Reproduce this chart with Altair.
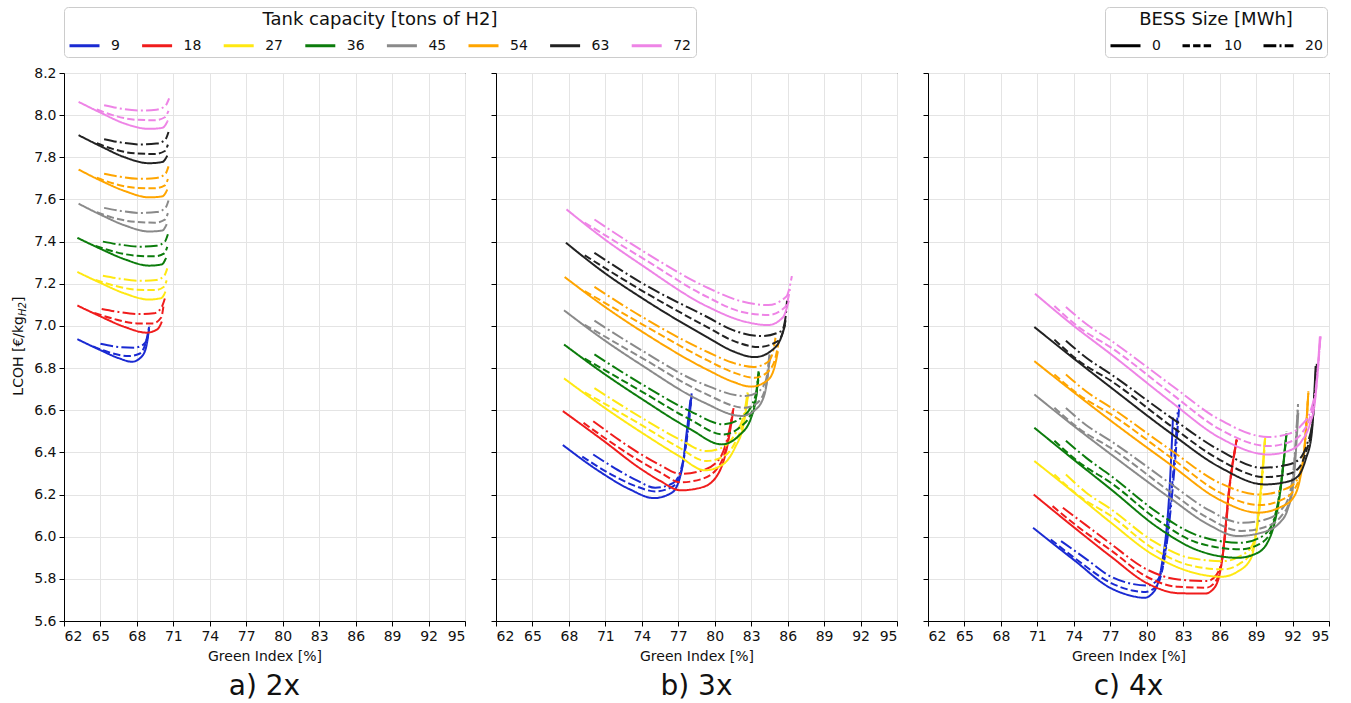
import altair as alt
import pandas as pd

FONT = "DejaVu Sans"
TANKS = ["9", "18", "27", "36", "45", "54", "63", "72"]
COLORS = ["#1a2ad2", "#f01c1c", "#ffe812", "#0c7c0c", "#8a8a8a", "#ffa500", "#222222", "#ee84e6"]
BESS = ["0", "10", "20"]
DASHES = [[1, 0], [7.4, 3.2], [12.8, 3.2, 2, 3.2]]
XTICKS = [62, 65, 68, 71, 74, 77, 80, 83, 86, 89, 92, 95]
YTICKS = [5.6, 5.8, 6.0, 6.2, 6.4, 6.6, 6.8, 7.0, 7.2, 7.4, 7.6, 7.8, 8.0, 8.2]

# ---------------- panel a) 2x ----------------
A9 = [("0", [63.1, 65.0, 66.5, 67.6, 68.4, 68.8, 69.0], [6.937, 6.885, 6.847, 6.83, 6.855, 6.91, 6.99]),
      ("10", [64.4, 66.0, 67.3, 68.2, 68.7, 69.0], [6.903, 6.87, 6.857, 6.868, 6.915, 6.995]),
      ("20", [65.0, 66.5, 67.8, 68.5, 68.85, 69.05], [6.915, 6.9, 6.897, 6.91, 6.94, 7.0])]
A18 = [("0", [63.1, 65.0, 67.0, 68.8, 69.7, 70.05], [7.097, 7.045, 6.995, 6.968, 6.985, 7.02]),
       ("10", [64.5, 66.0, 68.0, 69.3, 70.0, 70.2], [7.062, 7.035, 7.012, 7.012, 7.04, 7.10]),
       ("20", [65.1, 66.5, 68.2, 69.4, 70.0, 70.3], [7.08, 7.066, 7.056, 7.06, 7.085, 7.13])]
A27 = [("0", [63.1, 65.0, 67.0, 69.0, 70.0, 70.35], [7.256, 7.204, 7.154, 7.125, 7.132, 7.163]),
       ("10", [64.6, 66.0, 68.0, 69.5, 70.2, 70.45], [7.218, 7.193, 7.172, 7.17, 7.185, 7.216]),
       ("20", [65.2, 66.6, 68.3, 69.6, 70.25, 70.5], [7.238, 7.224, 7.214, 7.218, 7.238, 7.273])]
A36 = [("0", [63.1, 65.0, 67.0, 69.0, 70.05, 70.4], [7.418, 7.366, 7.316, 7.286, 7.292, 7.323]),
       ("10", [64.6, 66.0, 68.0, 69.5, 70.25, 70.5], [7.38, 7.354, 7.333, 7.33, 7.344, 7.375]),
       ("20", [65.2, 66.6, 68.3, 69.6, 70.3, 70.55], [7.4, 7.386, 7.376, 7.38, 7.4, 7.435])]
A45 = [("0", [63.2, 65.0, 67.0, 69.0, 70.1, 70.45], [7.58, 7.528, 7.477, 7.448, 7.453, 7.483]),
       ("10", [64.7, 66.0, 68.0, 69.5, 70.3, 70.55], [7.54, 7.514, 7.493, 7.49, 7.504, 7.535]),
       ("20", [65.3, 66.6, 68.3, 69.6, 70.35, 70.6], [7.56, 7.546, 7.536, 7.54, 7.56, 7.595])]
A54 = [("0", [63.2, 65.0, 67.0, 69.0, 70.1, 70.5], [7.742, 7.69, 7.64, 7.61, 7.615, 7.647]),
       ("10", [64.7, 66.0, 68.0, 69.5, 70.3, 70.55], [7.703, 7.677, 7.655, 7.653, 7.667, 7.697]),
       ("20", [65.3, 66.6, 68.3, 69.6, 70.35, 70.6], [7.722, 7.708, 7.698, 7.702, 7.722, 7.757])]
A63 = [("0", [63.2, 65.0, 67.0, 69.0, 70.1, 70.5], [7.905, 7.853, 7.80, 7.772, 7.778, 7.808]),
       ("10", [64.7, 66.0, 68.0, 69.5, 70.3, 70.55], [7.867, 7.84, 7.818, 7.816, 7.83, 7.86]),
       ("20", [65.3, 66.6, 68.3, 69.6, 70.35, 70.6], [7.886, 7.871, 7.861, 7.865, 7.885, 7.92])]
A72 = [("0", [63.2, 65.0, 67.0, 69.0, 70.1, 70.55], [8.063, 8.012, 7.96, 7.935, 7.94, 7.975]),
       ("10", [64.7, 66.0, 68.0, 69.5, 70.3, 70.6], [8.027, 8.0, 7.978, 7.976, 7.99, 8.02]),
       ("20", [65.3, 66.6, 68.3, 69.6, 70.35, 70.65], [8.047, 8.032, 8.022, 8.026, 8.045, 8.08])]

# ---------------- panel b) 3x ----------------
B9 = [("0", [67.5, 70.5, 73.0, 75.0, 76.5, 77.3, 77.7, 78.0], [6.435, 6.31, 6.225, 6.183, 6.21, 6.32, 6.5, 6.65]),
      ("10", [69.1, 71.5, 73.5, 75.1, 76.6, 77.4, 77.8, 78.1], [6.38, 6.295, 6.24, 6.215, 6.24, 6.35, 6.52, 6.66]),
      ("20", [70.0, 71.5, 73.5, 75.1, 76.6, 77.4, 77.85, 78.1], [6.39, 6.335, 6.27, 6.232, 6.255, 6.36, 6.53, 6.68])]
B18 = [("0", [67.5, 70.85, 73.96, 75.5, 77.2, 79.0, 80.3, 81.0, 81.5], [6.596, 6.455, 6.32, 6.265, 6.22, 6.235, 6.3, 6.42, 6.588]),
       ("10", [69.2, 73.96, 75.5, 77.2, 79.0, 80.4, 81.1, 81.5], [6.54, 6.355, 6.305, 6.258, 6.275, 6.34, 6.46, 6.6]),
       ("20", [70.0, 73.96, 75.5, 77.2, 79.0, 80.4, 81.1, 81.55], [6.548, 6.39, 6.34, 6.298, 6.315, 6.37, 6.48, 6.61])]
B27 = [("0", [67.6, 70.85, 73.96, 77.0, 79.2, 80.6, 81.66, 82.4, 82.75], [6.751, 6.615, 6.495, 6.385, 6.315, 6.34, 6.422, 6.54, 6.675]),
       ("10", [69.3, 73.96, 77.0, 79.3, 80.7, 81.7, 82.4, 82.75], [6.685, 6.53, 6.425, 6.359, 6.38, 6.45, 6.56, 6.68]),
       ("20", [70.1, 73.96, 77.0, 79.3, 80.7, 81.7, 82.4, 82.7], [6.705, 6.565, 6.465, 6.406, 6.425, 6.49, 6.58, 6.685])]
B36 = [("0", [67.6, 70.85, 73.96, 78.0, 80.56, 82.0, 83.0, 83.4, 83.6], [6.912, 6.775, 6.655, 6.51, 6.438, 6.48, 6.565, 6.66, 6.77]),
       ("10", [69.3, 73.96, 78.0, 80.7, 82.1, 83.1, 83.45, 83.65], [6.845, 6.69, 6.555, 6.485, 6.52, 6.6, 6.68, 6.78]),
       ("20", [70.1, 73.96, 78.0, 80.7, 82.1, 83.1, 83.45, 83.6], [6.865, 6.725, 6.595, 6.533, 6.56, 6.63, 6.7, 6.785])]
B45 = [("0", [67.6, 70.85, 73.96, 79.0, 82.2, 83.3, 84.1, 84.55], [7.074, 6.935, 6.815, 6.64, 6.573, 6.6, 6.675, 6.857]),
       ("10", [69.3, 73.96, 79.0, 82.5, 83.5, 84.2, 84.55], [7.005, 6.85, 6.685, 6.612, 6.635, 6.71, 6.86]),
       ("20", [70.1, 73.96, 79.0, 82.5, 83.5, 84.2, 84.5], [7.025, 6.885, 6.725, 6.667, 6.685, 6.74, 6.865])]
B54 = [("0", [67.65, 70.85, 73.96, 79.46, 81.5, 83.0, 84.3, 84.9, 85.2], [7.232, 7.095, 6.975, 6.79, 6.735, 6.712, 6.74, 6.8, 6.88]),
       ("10", [69.3, 73.96, 79.46, 81.5, 83.3, 84.5, 85.0, 85.25], [7.165, 7.01, 6.835, 6.78, 6.754, 6.79, 6.85, 6.92]),
       ("20", [70.1, 73.96, 79.46, 81.5, 83.2, 84.4, 84.8, 85.0], [7.185, 7.045, 6.875, 6.825, 6.805, 6.83, 6.88, 6.944])]
B63 = [("0", [67.75, 70.85, 73.96, 79.46, 81.5, 83.3, 84.96, 85.5, 85.8], [7.395, 7.255, 7.134, 6.944, 6.88, 6.852, 6.897, 6.95, 7.007]),
       ("10", [69.3, 73.96, 79.46, 81.5, 83.6, 85.2, 85.6, 85.85], [7.335, 7.169, 6.992, 6.93, 6.90, 6.928, 6.97, 7.03]),
       ("20", [70.1, 73.96, 79.46, 81.5, 83.86, 85.5, 85.8, 85.95], [7.347, 7.205, 7.04, 6.98, 6.952, 6.976, 7.03, 7.12])]
B72 = [("0", [67.8, 70.85, 73.96, 79.46, 82.5, 84.4, 85.6, 86.1], [7.553, 7.415, 7.29, 7.09, 7.02, 7.004, 7.04, 7.12]),
       ("10", [69.3, 73.96, 79.46, 82.0, 84.4, 85.8, 86.2], [7.49, 7.325, 7.135, 7.07, 7.052, 7.09, 7.174]),
       ("20", [70.1, 73.96, 79.46, 82.0, 84.4, 85.9, 86.35], [7.505, 7.36, 7.18, 7.12, 7.099, 7.14, 7.237])]

# ---------------- panel c) 4x ----------------
C9 = [("0", [70.65, 74.0, 77.07, 78.7, 79.8, 80.6, 81.2, 81.9, 82.16], [6.042, 5.89, 5.755, 5.72, 5.71, 5.74, 5.853, 6.248, 6.565]),
      ("10", [72.1, 74.5, 77.07, 78.8, 79.9, 80.8, 81.4, 82.1, 82.55], [5.987, 5.88, 5.78, 5.745, 5.738, 5.765, 5.88, 6.25, 6.59]),
      ("20", [72.95, 75.0, 77.07, 78.9, 80.0, 80.9, 81.5, 82.2, 82.7], [5.979, 5.895, 5.81, 5.775, 5.768, 5.795, 5.91, 6.27, 6.64])]
C18 = [("0", [70.7, 74.0, 77.07, 80.0, 82.6, 84.8, 85.6, 86.15, 86.83, 87.4], [6.2, 6.045, 5.905, 5.78, 5.732, 5.73, 5.76, 5.868, 6.248, 6.462]),
       ("10", [72.25, 74.5, 77.07, 80.0, 82.6, 84.9, 85.7, 86.2, 86.85, 87.4], [6.145, 6.04, 5.935, 5.81, 5.762, 5.758, 5.79, 5.89, 6.26, 6.46]),
       ("20", [73.1, 75.0, 77.07, 80.0, 82.6, 85.0, 85.75, 86.25, 86.9, 87.45], [6.137, 6.055, 5.965, 5.845, 5.797, 5.79, 5.82, 5.91, 6.27, 6.47])]
C27 = [("0", [70.75, 74.0, 77.07, 80.5, 83.5, 86.15, 87.5, 88.6, 89.3, 89.72], [6.359, 6.21, 6.066, 5.915, 5.835, 5.81, 5.835, 5.90, 6.17, 6.462]),
       ("10", [72.4, 74.5, 77.07, 80.5, 83.5, 86.3, 87.6, 88.65, 89.35, 89.75], [6.295, 6.19, 6.098, 5.945, 5.865, 5.845, 5.87, 5.93, 6.19, 6.47]),
       ("20", [73.35, 75.0, 77.07, 80.5, 83.5, 86.3, 87.6, 88.7, 89.4, 89.75], [6.295, 6.21, 6.13, 5.98, 5.9, 5.884, 5.905, 5.96, 6.2, 6.47])]
C36 = [("0", [70.75, 74.0, 77.07, 81.0, 84.0, 87.5, 89.0, 90.0, 90.5, 90.96, 91.5], [6.517, 6.365, 6.224, 6.04, 5.94, 5.90, 5.92, 5.979, 6.06, 6.201, 6.486]),
       ("10", [72.4, 74.5, 77.07, 81.0, 84.0, 87.7, 89.1, 90.1, 90.55, 91.0, 91.5], [6.455, 6.35, 6.255, 6.075, 5.975, 5.94, 5.96, 6.01, 6.09, 6.23, 6.49]),
       ("20", [73.35, 75.0, 77.07, 81.0, 84.0, 87.7, 89.1, 90.15, 90.6, 91.05, 91.5], [6.455, 6.375, 6.288, 6.11, 6.01, 5.971, 5.99, 6.04, 6.11, 6.25, 6.5])]
C45 = [("0", [70.75, 74.0, 77.07, 82.0, 85.0, 87.5, 89.5, 91.0, 91.6, 92.06, 92.47], [6.675, 6.525, 6.39, 6.18, 6.06, 6.003, 6.02, 6.07, 6.13, 6.248, 6.588]),
       ("10", [72.4, 74.5, 77.07, 82.0, 85.0, 87.8, 89.7, 91.1, 91.7, 92.1, 92.45], [6.612, 6.51, 6.42, 6.21, 6.09, 6.027, 6.045, 6.1, 6.16, 6.3, 6.62]),
       ("20", [73.35, 75.0, 77.07, 82.0, 85.0, 87.8, 89.7, 91.1, 91.7, 92.1, 92.45], [6.61, 6.53, 6.453, 6.25, 6.13, 6.066, 6.08, 6.13, 6.19, 6.33, 6.63])]
C54 = [("0", [70.75, 74.0, 77.07, 82.0, 86.0, 89.17, 91.0, 92.06, 92.6, 92.9, 93.3], [6.833, 6.685, 6.549, 6.34, 6.175, 6.114, 6.14, 6.185, 6.27, 6.375, 6.683]),
       ("10", [72.4, 74.5, 77.07, 82.0, 86.0, 89.3, 91.1, 92.1, 92.65, 92.95, 93.3], [6.77, 6.67, 6.58, 6.375, 6.21, 6.15, 6.175, 6.22, 6.3, 6.4, 6.68]),
       ("20", [73.35, 75.0, 77.07, 82.0, 86.0, 89.3, 91.1, 92.1, 92.7, 93.0, 93.3], [6.77, 6.69, 6.612, 6.41, 6.255, 6.2, 6.22, 6.25, 6.32, 6.42, 6.69])]
C63 = [("0", [70.75, 74.0, 77.07, 82.0, 86.0, 89.7, 91.5, 92.47, 93.1, 93.57, 93.9], [6.995, 6.845, 6.707, 6.49, 6.33, 6.248, 6.26, 6.288, 6.37, 6.485, 6.81]),
       ("10", [72.4, 74.5, 77.07, 82.0, 86.0, 89.7, 91.5, 92.5, 93.15, 93.6, 93.95], [6.935, 6.83, 6.739, 6.525, 6.365, 6.283, 6.295, 6.325, 6.41, 6.52, 6.81]),
       ("20", [73.35, 75.0, 77.07, 82.0, 86.0, 89.5, 91.5, 92.5, 93.2, 93.65, 94.0], [6.93, 6.85, 6.77, 6.565, 6.41, 6.327, 6.34, 6.365, 6.44, 6.55, 6.82])]
C72 = [("0", [70.8, 74.0, 77.07, 82.0, 86.0, 90.0, 91.8, 92.75, 93.4, 93.85, 94.25], [7.153, 7.0, 6.865, 6.64, 6.47, 6.39, 6.41, 6.454, 6.53, 6.644, 6.95]),
       ("10", [72.4, 74.5, 77.07, 82.0, 86.0, 90.0, 91.8, 92.75, 93.45, 93.9, 94.3], [7.094, 6.99, 6.897, 6.68, 6.51, 6.43, 6.45, 6.49, 6.57, 6.68, 6.95]),
       ("20", [73.35, 75.0, 77.07, 82.0, 86.0, 90.0, 91.8, 92.75, 93.5, 93.95, 94.3], [7.09, 7.01, 6.93, 6.72, 6.555, 6.473, 6.49, 6.53, 6.6, 6.72, 6.95])]

PANELS = {
    "a": [A9, A18, A27, A36, A45, A54, A63, A72],
    "b": [B9, B18, B27, B36, B45, B54, B63, B72],
    "c": [C9, C18, C27, C36, C45, C54, C63, C72],
}
TITLES = {"a": "a) 2x", "b": "b) 3x", "c": "c) 4x"}


def frame(key):
    rows = []
    for tank, curves in zip(TANKS, PANELS[key]):
        for bess, xs, ys in curves:
            for i, (xv, yv) in enumerate(zip(xs, ys)):
                rows.append({"tank": tank, "bess": bess, "i": i, "x": xv, "y": yv})
    return pd.DataFrame(rows)


color_legend = alt.Legend(
    title="Tank capacity [tons of H2]", orient="none", legendX=0, legendY=-66,
    direction="horizontal", columns=8, symbolType="stroke", symbolSize=900,
    symbolStrokeWidth=3, labelFontSize=14, titleFontSize=18, titleFontWeight="normal",
    titleAnchor="middle", titleLimit=600, labelFont=FONT, titleFont=FONT, strokeColor="#cccccc",
    fillColor="white", padding=4, cornerRadius=4, columnPadding=15.6, gridAlign="each",
    labelOffset=10, titlePadding=0, labelColor="#111111", titleColor="#111111")
dash_legend = alt.Legend(
    title="BESS Size [MWh]", orient="none", legendX=1041, legendY=-66,
    direction="horizontal", columns=3, symbolType="stroke", symbolSize=900,
    symbolStrokeWidth=3, symbolStrokeColor="black", labelFontSize=14, titleFontSize=18,
    titleFontWeight="normal", titleAnchor="middle", titleLimit=400, labelFont=FONT, titleFont=FONT,
    strokeColor="#cccccc", fillColor="white", padding=4, cornerRadius=4, columnPadding=15,
    gridAlign="each", labelOffset=10, titlePadding=0, labelColor="#111111", titleColor="#111111")


def panel(key):
    show_y = key == "a"
    lines = alt.Chart(frame(key)).mark_line(strokeWidth=2, interpolate="monotone").encode(
        x=alt.X("x:Q", scale=alt.Scale(domain=[62, 95], nice=False, zero=False),
                axis=alt.Axis(values=XTICKS, title="Green Index [%]", labelFontSize=14,
                              titleFontSize=14, titlePadding=6)),
        y=alt.Y("y:Q", scale=alt.Scale(domain=[5.6, 8.2], nice=False, zero=False),
                axis=alt.Axis(values=YTICKS, format=".1f", labels=show_y, title=None,
                              labelFontSize=14)),
        color=alt.Color("tank:N", scale=alt.Scale(domain=TANKS, range=COLORS), legend=color_legend),
        strokeDash=alt.StrokeDash("bess:N", scale=alt.Scale(domain=BESS, range=DASHES), legend=dash_legend),
        order=alt.Order("i:Q"),
    )
    layers = [lines]
    if show_y:
        t_main = alt.Chart(pd.DataFrame({"t": ["LCOH [€/kg"]})).mark_text(
            angle=270, align="right", baseline="middle", fontSize=14, font=FONT, color="#111111"
        ).encode(x=alt.value(-45), y=alt.value(243), text="t:N")
        t_sub = alt.Chart(pd.DataFrame({"t": ["H2"]})).mark_text(
            angle=270, align="left", baseline="middle", fontSize=10, font=FONT, fontStyle="italic",
            color="#111111"
        ).encode(x=alt.value(-41.5), y=alt.value(243), text="t:N")
        t_end = alt.Chart(pd.DataFrame({"t": ["]"]})).mark_text(
            angle=270, align="left", baseline="middle", fontSize=14, font=FONT, color="#111111"
        ).encode(x=alt.value(-45), y=alt.value(229), text="t:N")
        layers += [t_main, t_sub, t_end]
    return alt.layer(*layers).properties(
        width=401, height=548,
        title=alt.TitleParams(TITLES[key], orient="bottom", fontSize=28, font=FONT,
                              fontWeight="normal", color="#111111", offset=10),
    )


chart = alt.hconcat(panel("a"), panel("b"), panel("c"), spacing=31, bounds="flush").properties(
    padding={"left": 11, "top": 6, "right": 5, "bottom": 2}
).configure_view(stroke="black", strokeWidth=1).configure_axis(
    domainColor="black", tickColor="black", gridColor="#e4e4e4", gridWidth=1,
    labelFont=FONT, titleFont=FONT, titleFontWeight="normal", labelColor="#111111",
    titleColor="#111111", tickSize=5, labelPadding=3
)

chart.save("out.html", embed_options={"renderer": "svg", "actions": False})
